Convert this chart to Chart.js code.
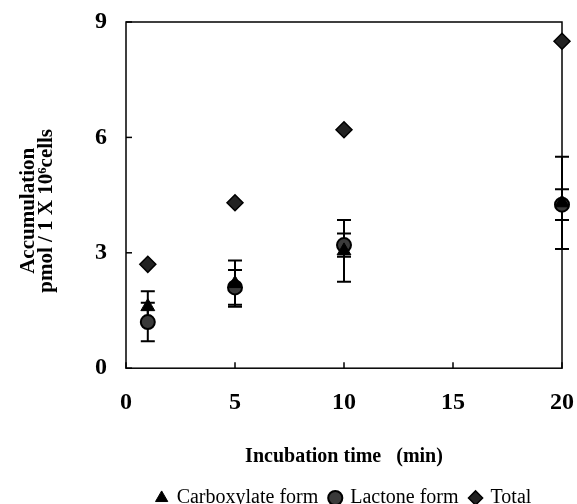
<!DOCTYPE html>
<html>
<head>
<meta charset="utf-8">
<script src="https://cdn.jsdelivr.net/npm/chart.js@4/dist/chart.umd.min.js"></script>
<style>
  html, body { margin: 0; padding: 0; background: #fff; }
  #wrap { width: 577px; height: 504px; }
</style>
</head>
<body>
<div id="wrap"><canvas id="chart"></canvas></div>
<script>
// Values
const times = [1, 5, 10, 20];
const carboxylate = [1.6, 2.2, 3.05, 4.3];
const carboxylateErr = [0.4, 0.6, 0.8, 1.2];
const lactone = [1.2, 2.1, 3.2, 4.25];
const lactoneErr = [0.5, 0.45, 0.3, 0.4];
const total = [2.7, 4.3, 6.2, 8.5];
const xTicks = [0, 5, 10, 15, 20];
const yTicks = [0, 3, 6, 9];

const serif = '"Liberation Serif", "DejaVu Serif", serif';
Chart.defaults.font.family = serif;
Chart.defaults.color = '#000';

function toPoints(ys) {
  return times.map((t, i) => ({ x: t, y: ys[i] }));
}

// error bars + box frame + inward ticks
const decorations = {
  id: 'decorations',
  beforeDatasetsDraw(chart) {
    const { ctx, chartArea: a, scales } = chart;
    const xs = scales.x, ys = scales.y;
    ctx.save();
    ctx.strokeStyle = '#000';

    // frame
    ctx.lineWidth = 1.5;
    ctx.strokeRect(a.left, a.top, a.right - a.left, a.bottom - a.top);

    // inward ticks
    xTicks.forEach((v) => {
      const px = xs.getPixelForValue(v);
      ctx.beginPath();
      ctx.moveTo(px, a.bottom);
      ctx.lineTo(px, a.bottom - 6);
      ctx.stroke();
    });
    yTicks.forEach((v) => {
      const py = ys.getPixelForValue(v);
      ctx.beginPath();
      ctx.moveTo(a.left, py);
      ctx.lineTo(a.left + 6, py);
      ctx.stroke();
    });

    // error bars
    ctx.lineWidth = 2;
    const series = [
      [carboxylate, carboxylateErr],
      [lactone, lactoneErr],
    ];
    series.forEach(([vals, errs]) => {
      times.forEach((t, i) => {
        const px = xs.getPixelForValue(t);
        const top = ys.getPixelForValue(vals[i] + errs[i]);
        const bot = ys.getPixelForValue(vals[i] - errs[i]);
        ctx.beginPath();
        ctx.moveTo(px, top);
        ctx.lineTo(px, bot);
        ctx.moveTo(px - 7, top);
        ctx.lineTo(px + 7, top);
        ctx.moveTo(px - 7, bot);
        ctx.lineTo(px + 7, bot);
        ctx.stroke();
      });
    });
    ctx.restore();
  },
};

const ctx = document.getElementById('chart').getContext('2d');
new Chart(ctx, {
  type: 'scatter',
  data: {
    datasets: [
      {
        label: 'Carboxylate form',
        data: toPoints(carboxylate),
        pointStyle: 'triangle',
        pointRadius: 8,
        backgroundColor: '#000',
        borderColor: '#000',
        borderWidth: 1,
        clip: false,
      },
      {
        label: 'Lactone form',
        data: toPoints(lactone),
        pointStyle: 'circle',
        pointRadius: 7,
        backgroundColor: '#3a3a3a',
        borderColor: '#000',
        borderWidth: 2,
        clip: false,
      },
      {
        label: 'Total',
        data: toPoints(total),
        pointStyle: 'rectRot',
        pointRadius: 8,
        backgroundColor: '#222',
        borderColor: '#000',
        borderWidth: 1.5,
        clip: false,
      },
    ],
  },
  options: {
    responsive: true,
    maintainAspectRatio: false,
    animation: false,
    layout: { padding: { left: 20, right: 9, top: 22, bottom: -14 } },
    plugins: {
      tooltip: { enabled: false },
      legend: {
        position: 'bottom',
        fullSize: false,
        labels: {
          usePointStyle: true,
          boxWidth: 10,
          boxHeight: 10,
          padding: 12,
          color: '#000',
          font: { family: serif, size: 20 },
        },
      },
    },
    scales: {
      x: {
        type: 'linear',
        min: 0,
        max: 20,
        afterBuildTicks(scale) {
          scale.ticks = xTicks.map((v) => ({ value: v }));
        },
        afterFit(scale) {
          scale.paddingLeft = 0;
          scale.paddingRight = 15;
        },
        grid: { display: false },
        border: { display: false },
        ticks: {
          color: '#000',
          padding: 12,
          maxRotation: 0,
          font: { family: serif, size: 24, weight: 'bold' },
        },
        title: {
          display: true,
          text: 'Incubation time   (min)',
          color: '#000',
          padding: { top: 16, bottom: 7 },
          font: { family: serif, size: 20, weight: 'bold' },
        },
      },
      y: {
        type: 'linear',
        min: 0,
        max: 9,
        afterBuildTicks(scale) {
          scale.ticks = yTicks.map((v) => ({ value: v }));
        },
        afterFit(scale) {
          scale.width = 106;
          scale.paddingTop = 14;
          scale.paddingBottom = 0;
        },
        grid: { display: false },
        border: { display: false },
        ticks: {
          color: '#000',
          padding: 11,
          font: { family: serif, size: 24, weight: 'bold' },
        },
        title: {
          display: true,
          // trailing spaces nudge the rotated title down like the original
          text: ['Accumulation      ', 'pmol / 1 X 10\u2076cells      '],
          color: '#000',
          padding: 0,
          font: { family: serif, size: 21, weight: 'bold', lineHeight: 0.85 },
        },
      },
    },
  },
  plugins: [decorations],
});
</script>
</body>
</html>
